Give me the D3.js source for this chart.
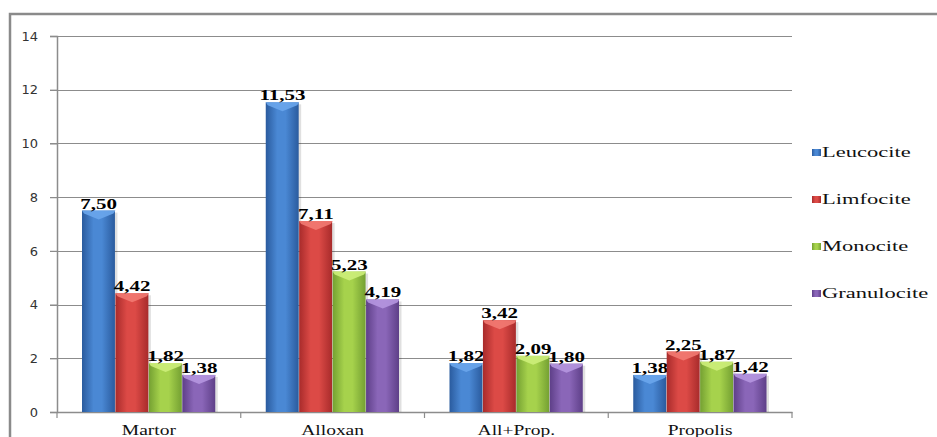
<!DOCTYPE html>
<html>
<head>
<meta charset="utf-8">
<script src="https://cdn.jsdelivr.net/npm/d3@7"></script>
<style>
  body { margin: 0; background: #fff; }
  svg { display: block; }
</style>
</head>
<body>
<div class="chart"></div>
<script>
// chart data
var categories = ["Martor", "Alloxan", "All+Prop.", "Propolis"];
var seriesNames = ["Leucocite", "Limfocite", "Monocite", "Granulocite"];
var leucocite = [7.50, 11.53, 1.82, 1.38];
var limfocite = [4.42, 7.11, 3.42, 2.25];
var monocite = [1.82, 5.23, 2.09, 1.87];
var granulocite = [1.38, 4.19, 1.80, 1.42];
var yTicks = [0, 2, 4, 6, 8, 10, 12, 14];

var seriesValues = [leucocite, limfocite, monocite, granulocite];

var serifFont = "Liberation Serif";

// colours: [dark edge, light middle, cap]
var colors = [
  ["#2a5b9e", "#4a88d4", "#6aa6ec"],
  ["#a82b2b", "#dc4a46", "#f27a72"],
  ["#74a032", "#a6d24c", "#cdee7a"],
  ["#5e3f88", "#8a66b8", "#b596e0"]
];

var svgWidth = 937;
var svgHeight = 437;

var plot = { left: 57, right: 792, top: 36, bottom: 412 };

var svg = d3.select(".chart")
  .append("svg")
  .attr("width", svgWidth)
  .attr("height", svgHeight);

var defs = svg.append("defs");

colors.forEach(function (c, i) {
  var g = defs.append("linearGradient")
    .attr("id", "grad" + i)
    .attr("x1", "0%").attr("x2", "100%")
    .attr("y1", "0%").attr("y2", "0%");
  g.append("stop").attr("offset", "0%").attr("stop-color", c[0]);
  g.append("stop").attr("offset", "35%").attr("stop-color", c[1]);
  g.append("stop").attr("offset", "60%").attr("stop-color", c[1]);
  g.append("stop").attr("offset", "100%").attr("stop-color", c[0]);
});

// outer frame
svg.append("rect")
  .attr("x", 10)
  .attr("y", 14)
  .attr("width", 1000)
  .attr("height", 600)
  .attr("fill", "none")
  .attr("stroke", "#8a8a8a")
  .attr("stroke-width", 2.5);

// scales
var yScale = d3.scaleLinear()
  .domain([0, 14])
  .range([plot.bottom, plot.top]);

var xScale = d3.scaleBand()
  .domain(categories)
  .range([plot.left, plot.right])
  .paddingInner(0)
  .paddingOuter(0);

var xInner = d3.scaleBand()
  .domain(seriesNames)
  .range([25, xScale.bandwidth() - 25])
  .padding(0);

// gridlines
svg.append("g")
  .selectAll("line")
  .data(yTicks.filter(function (d) { return d > 0; }))
  .enter()
  .append("line")
  .attr("x1", plot.left - 7)
  .attr("x2", plot.right)
  .attr("y1", function (d) { return Math.round(yScale(d)) + 0.5; })
  .attr("y2", function (d) { return Math.round(yScale(d)) + 0.5; })
  .attr("stroke", "#8c8c8c")
  .attr("stroke-width", 1.2);

// y axis
var leftAxis = d3.axisLeft(yScale)
  .tickValues(yTicks)
  .tickSize(7)
  .tickPadding(12)
  .tickFormat(d3.format("d"));

var yAxis = svg.append("g")
  .attr("transform", "translate(" + plot.left + ",0)")
  .call(leftAxis);

yAxis.select(".domain").attr("stroke", "#8c8c8c").attr("stroke-width", 1.5);
yAxis.selectAll(".tick line").attr("stroke", "#8c8c8c").attr("stroke-width", 1.2);
yAxis.selectAll(".tick text")
  .style("font-family", "DejaVu Sans")
  .attr("font-size", 13)
  .attr("fill", "#333");

// x axis
var bottomAxis = d3.axisBottom(xScale)
  .tickSize(0)
  .tickFormat("");

var xAxis = svg.append("g")
  .attr("transform", "translate(0," + plot.bottom + ")")
  .call(bottomAxis);
xAxis.select(".domain").attr("stroke", "#8c8c8c").attr("stroke-width", 1.5);

// category boundary ticks
var bounds = categories.map(function (c) { return xScale(c); }).concat([plot.right]);
svg.append("g")
  .selectAll("line")
  .data(bounds)
  .enter()
  .append("line")
  .attr("x1", function (d) { return d; })
  .attr("x2", function (d) { return d; })
  .attr("y1", plot.bottom)
  .attr("y2", plot.bottom + 6)
  .attr("stroke", "#8c8c8c")
  .attr("stroke-width", 1.2);

// category labels
svg.append("g")
  .selectAll("text")
  .data(categories)
  .enter()
  .append("text")
  .attr("transform", function (d) {
    return "translate(" + (xScale(d) + xScale.bandwidth() / 2) + ",435) scale(1.3,1)";
  })
  .attr("text-anchor", "middle")
  .style("font-family", serifFont)
  .style("font-size", "15px")
  .attr("fill", "#111")
  .text(function (d) { return d; });

// bars
var barData = [];
categories.forEach(function (cat, ci) {
  seriesNames.forEach(function (s, si) {
    barData.push({ cat: cat, series: s, si: si, value: seriesValues[si][ci] });
  });
});

var barGroup = svg.append("g");

var bars = barGroup.selectAll("g.bar")
  .data(barData)
  .enter()
  .append("g")
  .attr("class", "bar")
  .attr("transform", function (d) {
    return "translate(" + (xScale(d.cat) + xInner(d.series)) + ",0)";
  });

var bw = xInner.bandwidth();

// soft shadow
bars.append("rect")
  .attr("x", 2)
  .attr("y", function (d) { return yScale(d.value) + 2; })
  .attr("width", bw)
  .attr("height", function (d) { return plot.bottom - yScale(d.value) - 2; })
  .attr("fill", "#000")
  .attr("opacity", 0.12);

bars.append("rect")
  .attr("x", 0)
  .attr("y", function (d) { return yScale(d.value); })
  .attr("width", bw - 0.5)
  .attr("height", function (d) { return plot.bottom - yScale(d.value); })
  .attr("fill", function (d) { return "url(#grad" + d.si + ")"; });

// cylinder cap highlight
bars.append("path")
  .attr("d", function (d) {
    var y = yScale(d.value);
    return "M0," + y + "L" + bw + "," + y + "L" + (bw - 2) + "," + (y + 3) +
      "L" + (bw / 2) + "," + (y + 9) + "L2," + (y + 3) + "Z";
  })
  .attr("fill", function (d) { return colors[d.si][2]; })
  .attr("opacity", 0.9);

// value labels
bars.append("text")
  .attr("transform", function (d) {
    return "translate(" + (bw / 2) + "," + (yScale(d.value) - 2) + ") scale(1.4,1)";
  })
  .attr("text-anchor", "middle")
  .style("font-family", serifFont)
  .style("font-weight", "bold")
  .style("font-size", "15px")
  .attr("fill", "#000")
  .text(function (d) { return d.value.toFixed(2).replace(".", ","); });

// legend
var legend = svg.append("g")
  .selectAll("g")
  .data(seriesNames)
  .enter()
  .append("g")
  .attr("transform", function (d, i) { return "translate(812," + (152 + i * 47) + ")"; });

legend.append("rect")
  .attr("x", 0)
  .attr("y", -3)
  .attr("width", 9)
  .attr("height", 7)
  .attr("fill", function (d, i) { return "url(#grad" + i + ")"; });

legend.append("text")
  .attr("transform", "translate(10,5) scale(1.5,1)")
  .style("font-family", serifFont)
  .style("font-size", "15px")
  .attr("fill", "#111")
  .text(function (d) { return d; });
</script>
</body>
</html>
